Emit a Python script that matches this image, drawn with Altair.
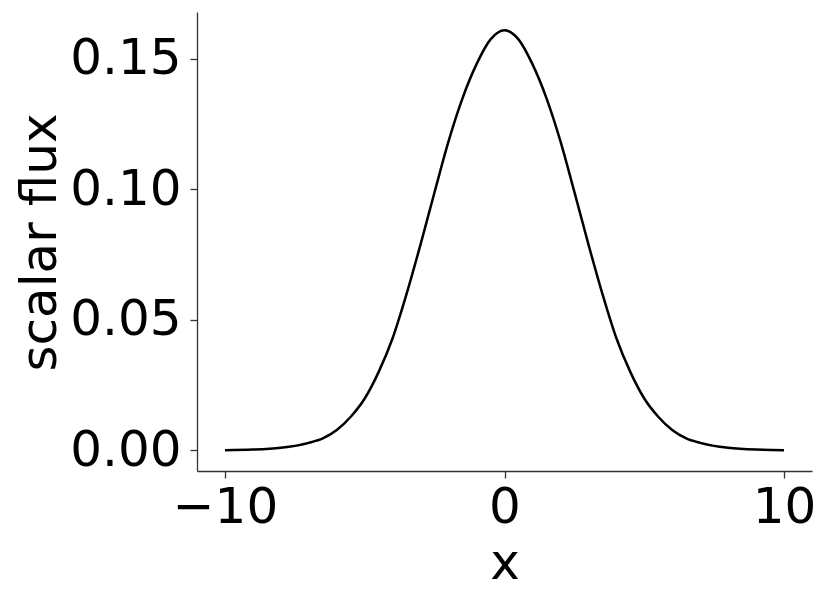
import altair as alt
import pandas as pd

# values (curve is symmetric about x = 0)
x_vals = [-10, -9, -8, -7, -6.5, -6, -5.5, -5, -4.5, -4, -3.5, -3, -2.5, -2, -1.5, -1, -0.5, 0,
          0.5, 1, 1.5, 2, 2.5, 3, 3.5, 4, 4.5, 5, 5.5, 6, 6.5, 7, 8, 9, 10]
flux_vals = [0.0000, 0.0002, 0.0009, 0.0028, 0.0045, 0.0077, 0.0128, 0.0198, 0.0300, 0.0430, 0.0600,
             0.0790, 0.0990, 0.1185, 0.1350, 0.1480, 0.1575, 0.1610,
             0.1575, 0.1480, 0.1350, 0.1185, 0.0990, 0.0790, 0.0600, 0.0430, 0.0300, 0.0198, 0.0128,
             0.0077, 0.0045, 0.0028, 0.0009, 0.0002, 0.0000]
x_ticks = [-10, 0, 10]
y_ticks = [0.00, 0.05, 0.10, 0.15]

df = pd.DataFrame({"x": x_vals, "flux": flux_vals})

FONT = "DejaVu Sans"
FS = 50

chart = alt.Chart(df).mark_line(color="black", strokeWidth=2.5, interpolate="monotone").encode(
    x=alt.X("x:Q", scale=alt.Scale(domain=[-11, 11], nice=False, zero=False),
            axis=alt.Axis(values=x_ticks, title="x", grid=False,
                          labelExpr="datum.value < 0 ? '\u2212' + abs(datum.value) : '' + datum.value",
                          titlePadding=6)),
    y=alt.Y("flux:Q", scale=alt.Scale(domain=[-0.008, 0.168], nice=False, zero=False),
            axis=alt.Axis(values=y_ticks, format=".2f", title="scalar flux", grid=False,
                          labelPadding=9, titleX=-142, titleY=230, titleAngle=270,
                          titleAlign="center", titleBaseline="alphabetic")),
).properties(
    width=615, height=459,
    autosize=alt.AutoSizeParams(type="none"),
    padding={"left": 189, "top": 4, "right": 10, "bottom": 130},
).configure_view(stroke=None).configure_axis(
    domainColor="#333333", domainWidth=1.3, tickColor="#333333", tickWidth=1.3, tickSize=7,
    labelFont=FONT, labelFontSize=FS, labelColor="black", labelPadding=4,
    titleFont=FONT, titleFontSize=FS, titleColor="black", titleFontWeight="normal",
    labelFlush=False,
)

chart.save("out.html", embed_options={"renderer": "svg", "actions": False})
